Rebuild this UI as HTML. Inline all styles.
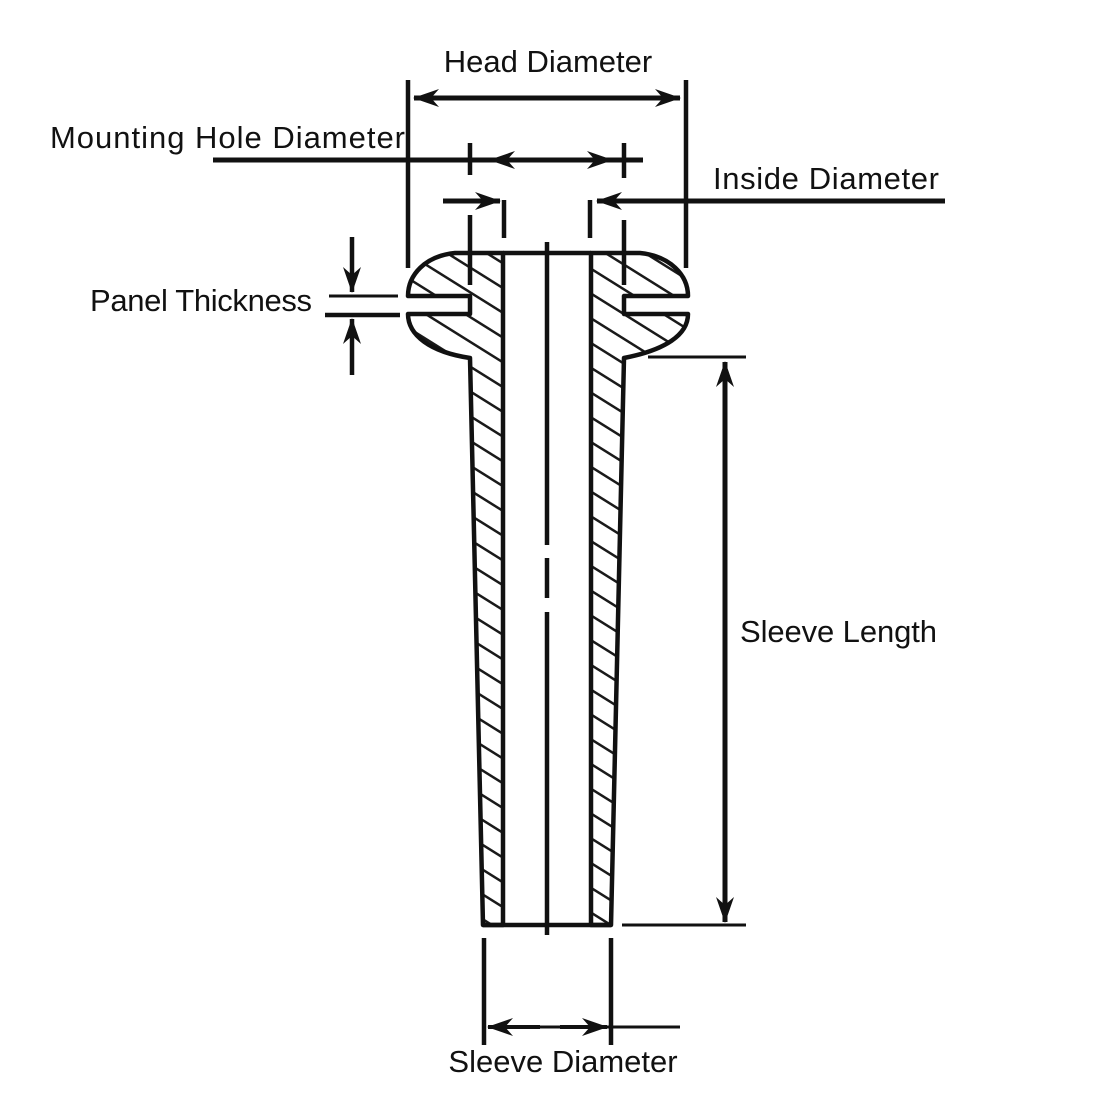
<!DOCTYPE html>
<html><head><meta charset="utf-8"><style>
html,body{margin:0;padding:0;background:#fff}
svg{display:block}
text{font-family:"Liberation Sans",sans-serif;font-size:31px;fill:#111}
</style></head><body>
<svg width="1100" height="1100" viewBox="0 0 1100 1100" xmlns="http://www.w3.org/2000/svg">
<defs>
<pattern id="h" patternUnits="userSpaceOnUse" width="21" height="21" patternTransform="rotate(-58)">
<line x1="0" y1="0" x2="0" y2="21" stroke="#1a1a1a" stroke-width="5"/>
</pattern>
<marker id="a" viewBox="0 0 26 18" refX="25" refY="9" markerWidth="26" markerHeight="18" markerUnits="userSpaceOnUse" orient="auto-start-reverse">
<path d="M0,0 L26,9 L0,18 L8,9 Z" fill="#111"/>
</marker>
</defs>
<g stroke="#111" stroke-width="4.5" fill="url(#h)" stroke-linejoin="round">
<path d="M503,253 L455,253 C425,256 408,275 408,296 L470,296 L470,314 L408,314 C408,335 430,352 470,358 L483,925 L503,925 Z"/>
<path d="M591,253 L640,253 C670,256 688,275 688,296 L624,296 L624,314 L688,314 C688,335 665,350 624,358 L611,925 L591,925 Z"/>
</g>
<g stroke="#111" stroke-width="4.5" fill="none">
<line x1="503" y1="253" x2="591" y2="253"/>
<line x1="483" y1="925" x2="611" y2="925"/>
<line x1="547" y1="242" x2="547" y2="545"/>
<line x1="547" y1="558" x2="547" y2="598"/>
<line x1="547" y1="612" x2="547" y2="935"/>
<line x1="408" y1="80" x2="408" y2="268"/>
<line x1="686" y1="80" x2="686" y2="268"/>
<line x1="414" y1="98" x2="680" y2="98" stroke-width="5" marker-start="url(#a)" marker-end="url(#a)"/>
<line x1="213" y1="160" x2="643" y2="160" stroke-width="5"/>
<line x1="470" y1="143" x2="470" y2="175"/>
<line x1="470" y1="215" x2="470" y2="285"/>
<line x1="624" y1="143" x2="624" y2="178"/>
<line x1="624" y1="220" x2="624" y2="285"/>
<line x1="540" y1="160" x2="490" y2="160" stroke-width="5" marker-end="url(#a)"/>
<line x1="560" y1="160" x2="612" y2="160" stroke-width="5" marker-end="url(#a)"/>
<line x1="443" y1="201" x2="500" y2="201" stroke-width="5" marker-end="url(#a)"/>
<line x1="945" y1="201" x2="597" y2="201" stroke-width="5" marker-end="url(#a)"/>
<line x1="504" y1="200" x2="504" y2="238"/>
<line x1="590" y1="200" x2="590" y2="238"/>
<line x1="329" y1="296" x2="398" y2="296" stroke-width="3"/>
<line x1="325" y1="315" x2="400" y2="315"/>
<line x1="352" y1="237" x2="352" y2="292" marker-end="url(#a)"/>
<line x1="352" y1="375" x2="352" y2="319" marker-end="url(#a)"/>
<line x1="648" y1="357" x2="746" y2="357" stroke-width="3"/>
<line x1="622" y1="925" x2="746" y2="925" stroke-width="3"/>
<line x1="725" y1="362" x2="725" y2="922" stroke-width="5" marker-start="url(#a)" marker-end="url(#a)"/>
<line x1="484" y1="938" x2="484" y2="1045"/>
<line x1="611" y1="938" x2="611" y2="1045"/>
<line x1="488" y1="1027" x2="680" y2="1027" stroke-width="3"/>
<line x1="540" y1="1027" x2="488" y2="1027" stroke-width="4" marker-end="url(#a)"/>
<line x1="560" y1="1027" x2="607" y2="1027" stroke-width="4" marker-end="url(#a)"/>
</g>
<text x="548" y="72" text-anchor="middle">Head Diameter</text>
<text x="50" y="148" textLength="355">Mounting Hole Diameter</text>
<text x="713" y="189" textLength="226">Inside Diameter</text>
<text x="90" y="311" textLength="222">Panel Thickness</text>
<text x="740" y="642" textLength="197">Sleeve Length</text>
<text x="563" y="1072" text-anchor="middle">Sleeve Diameter</text>
</svg>
</body></html>
